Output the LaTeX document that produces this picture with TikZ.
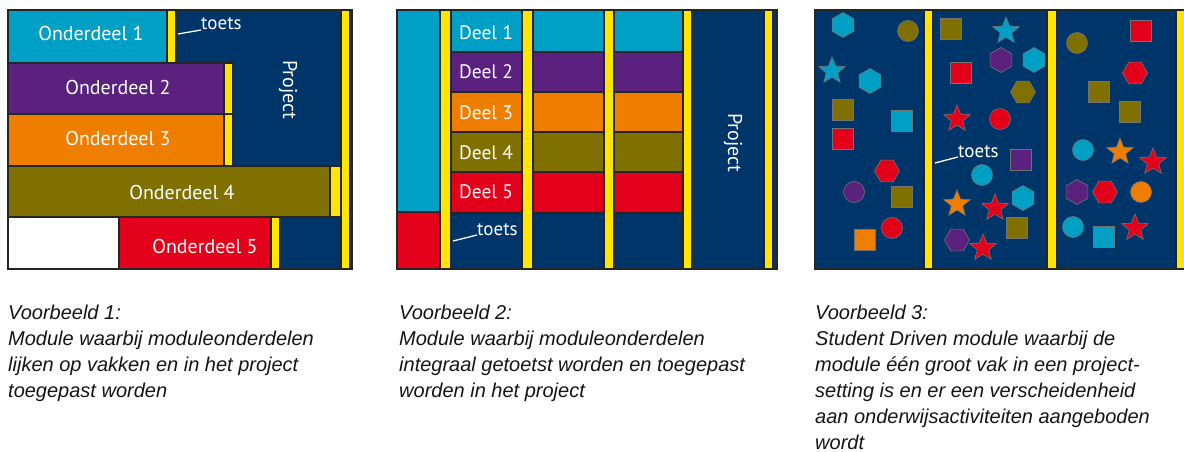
\documentclass[tikz,border=0pt]{standalone}
\usepackage{fontspec}
\newfontfamily\boxfont{PT Sans}
\newfontfamily\capfont{Liberation Sans}
\usetikzlibrary{shapes.geometric}
\definecolor{mcyan}{HTML}{00A0C6}
\definecolor{mpurple}{HTML}{5B217F}
\definecolor{morange}{HTML}{EE7D00}
\definecolor{molive}{HTML}{7F7000}
\definecolor{mred}{HTML}{E2001A}
\definecolor{mblue}{HTML}{00356A}
\definecolor{myellow}{HTML}{FFE500}
\definecolor{capgray}{HTML}{151515}
\tikzset{
  blk/.style={draw=black!85, line width=1.2pt},
  panelframe/.style={draw=black!85, line width=2pt},
  lbl/.style={font=\boxfont\fontsize{20}{21}\selectfont, text=white, inner sep=0pt},
  dlbl/.style={font=\boxfont\fontsize{19.5}{21}\selectfont, text=white, inner sep=0pt},
  tlbl/.style={font=\boxfont\fontsize{19}{20}\selectfont, text=white, inner sep=0pt, anchor=base west},
  tline/.style={draw=white, line width=1.3pt},
  captext/.style={font=\capfont\itshape\fontsize{20}{26}\selectfont, text=capgray,
              inner sep=0pt, anchor=north west, align=left},
  shp/.style={draw=black!55, line width=0.6pt, inner sep=0pt},
  sq/.style={shp, rectangle, minimum size=21pt},
  ci/.style={shp, circle, minimum size=21pt},
  hx/.style={shp, regular polygon, regular polygon sides=6, minimum size=25pt},
  hxu/.style={hx, shape border rotate=90},
  st/.style={shp, star, star points=5, star point ratio=2.3, minimum size=28pt},
}
\begin{document}
\begin{tikzpicture}[x=1pt,y=-1pt]
\useasboundingbox (0,0) rectangle (1184,452);

% ---------- Voorbeeld 1 ----------
\filldraw[blk, fill=mblue] (176,10) rectangle (341,269);
\filldraw[blk, fill=mcyan] (8,10) rectangle (167,63);
\filldraw[blk, fill=myellow] (167,10) rectangle (176,63);
\filldraw[blk, fill=mpurple] (8,63) rectangle (224,114);
\filldraw[blk, fill=myellow] (224,63) rectangle (233,114);
\filldraw[blk, fill=morange] (8,114) rectangle (224,166);
\filldraw[blk, fill=myellow] (224,114) rectangle (233,166);
\filldraw[blk, fill=molive] (8,166) rectangle (330,217);
\filldraw[blk, fill=myellow] (330,166) rectangle (341,217);
\filldraw[blk, fill=white] (8,217) rectangle (119,269);
\filldraw[blk, fill=mred] (119,217) rectangle (271,269);
\filldraw[blk, fill=myellow] (271,217) rectangle (280,269);
\filldraw[blk, fill=myellow] (341,10) rectangle (350,269);
\draw[panelframe] (8,10) rectangle (352,269);

\node[lbl] (o1) at (91,34) {Onderdeel 1};
\node[lbl] (o2) at (118,88) {Onderdeel 2};
\node[lbl] (o3) at (118,138) {Onderdeel 3};
\node[lbl] (o4) at (182,192) {Onderdeel 4};
\node[lbl] (o5) at (205,246) {Onderdeel 5};
\node[lbl, rotate=-90] (p1) at (288,90) {Project};
\coordinate (t1) at (178,34);
\node[tlbl] (toets1) at (201,30) {toets};
\draw[tline] (t1) -- (toets1.base west);

% ---------- Voorbeeld 2 ----------
\fill[mblue] (397,10) rectangle (777,269);
\filldraw[blk, fill=mcyan] (397,10) rectangle (440,212);
\filldraw[blk, fill=mred] (397,212) rectangle (440,269);
\filldraw[blk, fill=myellow] (440,10) rectangle (451,269);
\foreach \xa/\xb in {451/522, 533/604, 614/683}{
  \filldraw[blk, fill=mcyan]   (\xa,10)  rectangle (\xb,52);
  \filldraw[blk, fill=mpurple] (\xa,52)  rectangle (\xb,92);
  \filldraw[blk, fill=morange] (\xa,92)  rectangle (\xb,132);
  \filldraw[blk, fill=molive]  (\xa,132) rectangle (\xb,172);
  \filldraw[blk, fill=mred]    (\xa,172) rectangle (\xb,213);
  \filldraw[blk, fill=mblue]   (\xa,213) rectangle (\xb,269);
}
\filldraw[blk, fill=myellow] (522,10) rectangle (533,269);
\filldraw[blk, fill=myellow] (604,10) rectangle (614,269);
\filldraw[blk, fill=myellow] (683,10) rectangle (692,269);
\filldraw[blk, fill=mblue] (692,10) rectangle (764,269);
\filldraw[blk, fill=myellow] (764,10) rectangle (773,269);
\draw[panelframe] (397,10) rectangle (777,269);

\node[dlbl] (d1) at (486,33) {Deel 1};
\node[dlbl] (d2) at (486,72) {Deel 2};
\node[dlbl] (d3) at (486,113) {Deel 3};
\node[dlbl] (d4) at (486,153) {Deel 4};
\node[dlbl] (d5) at (486,192) {Deel 5};
\node[lbl, rotate=-90] (p2) at (733,143) {Project};
\coordinate (t2) at (453,241);
\node[tlbl] (toets2) at (477,235) {toets};
\draw[tline] (t2) -- (toets2.base west);

% ---------- Voorbeeld 3 ----------
\fill[mblue] (815,10) rectangle (1186,269);
\filldraw[blk, fill=myellow] (924,10) rectangle (933,269);
\filldraw[blk, fill=myellow] (1047,10) rectangle (1057,269);
\filldraw[blk, fill=myellow] (1176,10) rectangle (1190,269);
\draw[panelframe] (815,10) rectangle (1190,269);

% column 1
\node[hxu, fill=mcyan] (a1)  at (843,25) {};
\node[ci, fill=molive] (a2)  at (908,31) {};
\node[st, fill=mcyan]  (a3)  at (832,71) {};
\node[hxu, fill=mcyan] (a4)  at (870,81) {};
\node[sq, fill=molive] (a5)  at (843,110) {};
\node[sq, fill=mcyan]  (a6)  at (902,121) {};
\node[sq, fill=mred]   (a7)  at (843,139) {};
\node[hx, fill=mred]   (a8)  at (887,171) {};
\node[ci, fill=mpurple](a9)  at (854,192) {};
\node[sq, fill=molive] (a10) at (902,197) {};
\node[ci, fill=mred]   (a11) at (892,228) {};
\node[sq, fill=morange](a12) at (865,240) {};
% column 2
\node[sq, fill=molive] (b1)  at (951,29) {};
\node[st, fill=mcyan]  (b2)  at (1006,31) {};
\node[hxu, fill=mpurple](b3) at (1001,60) {};
\node[hxu, fill=mcyan] (b4)  at (1034,60) {};
\node[sq, fill=mred]   (b5)  at (961,73) {};
\node[hx, fill=molive] (b6)  at (1023,92) {};
\node[st, fill=mred]   (b7)  at (957,119) {};
\node[ci, fill=mred]   (b8)  at (1000,119) {};
\node[sq, fill=mpurple](b9)  at (1021,160) {};
\node[ci, fill=mcyan]  (b10) at (982,175) {};
\node[st, fill=morange](b11) at (957,204) {};
\node[st, fill=mred]   (b12) at (995,208) {};
\node[hxu, fill=mcyan] (b13) at (1023,198) {};
\node[sq, fill=molive] (b14) at (1017,228) {};
\node[hx, fill=mpurple](b15) at (957,240) {};
\node[st, fill=mred]   (b16) at (983,248) {};
% column 3
\node[ci, fill=molive] (c1)  at (1077,43) {};
\node[sq, fill=mred]   (c2)  at (1141,31) {};
\node[hx, fill=mred]   (c3)  at (1135,73) {};
\node[sq, fill=molive] (c4)  at (1099,92) {};
\node[sq, fill=molive] (c5)  at (1130,112) {};
\node[ci, fill=mcyan]  (c6)  at (1083,150) {};
\node[st, fill=morange](c7)  at (1120,152) {};
\node[st, fill=mred]   (c8)  at (1153,162) {};
\node[hxu, fill=mpurple](c9) at (1077,192) {};
\node[hx, fill=mred]   (c10) at (1105,192) {};
\node[ci, fill=morange](c11) at (1141,192) {};
\node[ci, fill=mcyan]  (c12) at (1073,227) {};
\node[sq, fill=mcyan]  (c13) at (1104,237) {};
\node[st, fill=mred]   (c14) at (1135,228) {};

\coordinate (t3) at (935,163);
\node[tlbl] (toets3) at (958,157) {toets};
\draw[tline] (t3) -- (toets3.base west);

% ---------- captions ----------
\node[captext] (cap1) at (8,305) {Voorbeeld 1:\\Module waarbij moduleonderdelen\\lijken op vakken en in het project\\toegepast worden};
\node[captext] (cap2) at (399,305) {Voorbeeld 2:\\Module waarbij moduleonderdelen\\integraal getoetst worden en toegepast\\worden in het project};
\node[captext] (cap3) at (815,305) {Voorbeeld 3:\\Student Driven module waarbij de\\module één groot vak in een project-\\setting is en er een verscheidenheid\\aan onderwijsactiviteiten aangeboden\\wordt};
\end{tikzpicture}
\end{document}
